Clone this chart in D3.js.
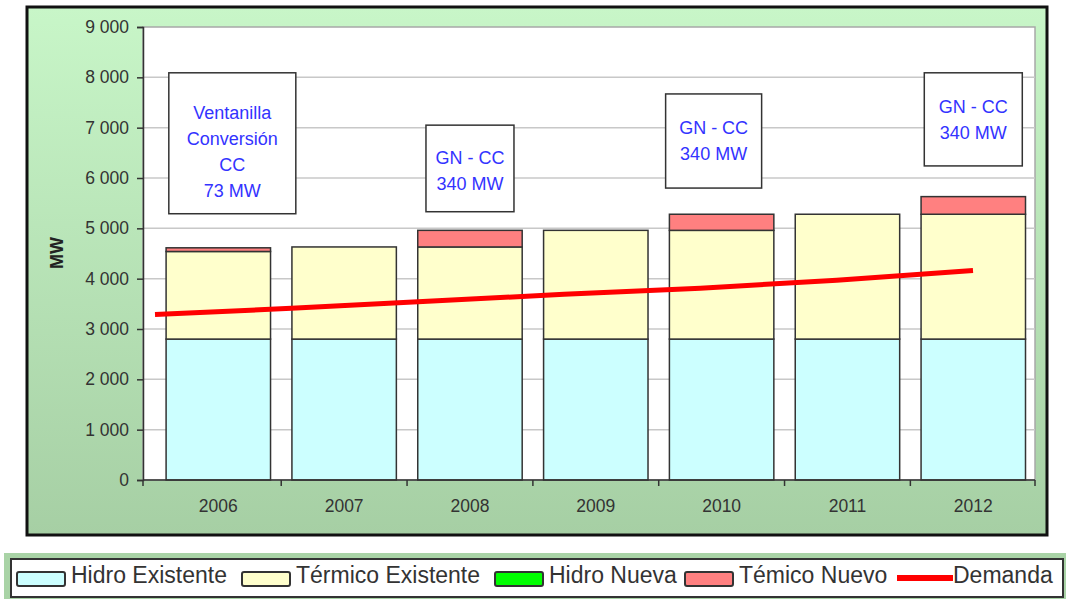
<!DOCTYPE html>
<html lang="es">

<head>
  <meta charset="UTF-8">
  <title>Oferta y demanda MW</title>
  <style>
    body { margin: 0; background: #fff; }
    svg text { font-family: 'Liberation Sans', Arial, sans-serif; }
  </style>
</head>

<body>
  <div id="chart"></div>

  <script src="https://d3js.org/d3.v7.min.js"></script>

  <script>
    // data
    const years = ['2006', '2007', '2008', '2009', '2010', '2011', '2012']
    const hidroExistente = [2800, 2800, 2800, 2800, 2800, 2800, 2800]
    const termicoExistente = [1740, 1830, 1830, 2160, 2160, 2480, 2480]
    const hidroNueva = [0, 0, 0, 0, 0, 0, 0]
    const termicoNuevo = [73, 0, 330, 0, 320, 0, 350]
    const demanda = [3290, 3410, 3550, 3690, 3810, 3970, 4160]
    const yTicks = [0, 1000, 2000, 3000, 4000, 5000, 6000, 7000, 8000, 9000]

    const seriesNames = ['Hidro Existente', 'Térmico Existente', 'Hidro Nueva', 'Témico Nuevo']
    const lineName = 'Demanda'

    const noteYears = ['2006', '2008', '2010', '2012']
    const noteLines = [
      ['Ventanilla', 'Conversión', 'CC', '73 MW'],
      ['GN - CC', '340 MW'],
      ['GN - CC', '340 MW'],
      ['GN - CC', '340 MW']
    ]

    // layout
    const width = 1069
    const height = 599
    const plot = { left: 143, right: 1035, top: 27, bottom: 480 }
    const barRange = [155.4, 1036.2]
    const lineRange = [155, 973]
    const colors = ['#ccffff', '#ffffcc', '#00ff00', '#ff8080']
    const lineColor = '#ff0000'
    // annotation boxes: top/bottom in MW, width and horizontal shift in px
    const noteBoxes = [
      { top: 8090, bottom: 5290, w: 127, dx: 14, dy: 8 },
      { top: 7050, bottom: 5330, w: 88, dx: 0, dy: 2 },
      { top: 7670, bottom: 5800, w: 96, dx: -8, dy: 0 },
      { top: 8090, bottom: 6240, w: 98, dx: 0, dy: 0 }
    ]

    const svg = d3.select('#chart').append('svg').attr('width', width).attr('height', height)

    // outer chart area with green gradient
    const defs = svg.append('defs')
    const grad = defs.append('linearGradient').attr('id', 'bg').attr('x1', 0).attr('y1', 0).attr('x2', 0).attr('y2', 1)
    grad.append('stop').attr('offset', '0%').attr('stop-color', '#c8f6c8')
    grad.append('stop').attr('offset', '100%').attr('stop-color', '#a6cfa4')

    svg.append('rect').attr('x', 27).attr('y', 7).attr('width', 1020).attr('height', 528)
      .attr('fill', 'url(#bg)').attr('stroke', '#111').attr('stroke-width', 3)

    svg.append('rect').attr('x', plot.left).attr('y', plot.top)
      .attr('width', plot.right - plot.left).attr('height', plot.bottom - plot.top)
      .attr('fill', '#fff').attr('stroke', '#a8a8a8').attr('stroke-width', 1.5)

    // scales
    const xScale = d3.scaleBand().domain(years).range(barRange).paddingInner(0.17).paddingOuter(0.085)
    const xLine = d3.scalePoint().domain(years).range(lineRange)
    const yScale = d3.scaleLinear().domain([0, 9000]).range([plot.bottom, plot.top])

    // gridlines
    svg.append('g').selectAll('line').data(yTicks.filter(d => d > 0 && d < 9000)).enter().append('line')
      .attr('x1', plot.left).attr('x2', plot.right)
      .attr('y1', d => yScale(d)).attr('y2', d => yScale(d))
      .attr('stroke', '#c8c8c8').attr('stroke-width', 1.5)

    // stacked bars
    const rows = years.map((y, i) => ({
      year: y, s0: hidroExistente[i], s1: termicoExistente[i], s2: hidroNueva[i], s3: termicoNuevo[i]
    }))
    const stack = d3.stack().keys(['s0', 's1', 's2', 's3'])(rows)

    svg.append('g').selectAll('g').data(stack).enter().append('g')
      .attr('fill', (d, i) => colors[i])
      .selectAll('rect').data(d => d.filter(p => p[1] > p[0])).enter().append('rect')
      .attr('x', d => xScale(d.data.year))
      .attr('y', d => yScale(d[1]))
      .attr('width', xScale.bandwidth())
      .attr('height', d => yScale(d[0]) - yScale(d[1]))
      .attr('stroke', '#333').attr('stroke-width', 1.5)

    // demand line
    const line = d3.line().x((d, i) => xLine(years[i])).y(d => yScale(d))
    svg.append('path').datum(demanda).attr('d', line)
      .attr('fill', 'none').attr('stroke', lineColor).attr('stroke-width', 5)

    // axes
    const yAxis = d3.axisLeft(yScale).tickValues(yTicks).tickSize(6).tickPadding(8)
      .tickFormat(d => d3.format(',')(d).replace(',', ' '))
    const gY = svg.append('g').attr('transform', `translate(${plot.left},0)`).call(yAxis)
    gY.selectAll('text').attr('font-size', '17.5px').attr('fill', '#333').attr('font-family', null)
    gY.selectAll('line, path').attr('stroke', '#333').attr('stroke-width', 1.5)

    const xAxis = d3.axisBottom(xScale).tickSize(0).tickPadding(20)
    const gX = svg.append('g').attr('transform', `translate(0,${plot.bottom})`).call(xAxis)
    gX.select('.domain').remove()
    gX.selectAll('text').attr('font-size', '17.5px').attr('fill', '#333').attr('font-family', null)
    gX.append('line').attr('x1', plot.left).attr('x2', plot.right).attr('stroke', '#333').attr('stroke-width', 1.5)
    const bounds = years.map(y => xScale(y) - xScale.step() * xScale.paddingInner() / 2).slice(1)
    gX.selectAll('.bound').data(bounds.concat([plot.left, plot.right])).enter().append('line')
      .attr('x1', d => d).attr('x2', d => d).attr('y1', 0).attr('y2', 6)
      .attr('stroke', '#333').attr('stroke-width', 1.5)

    svg.append('text').attr('transform', 'translate(63,253) rotate(-90)')
      .attr('text-anchor', 'middle').attr('font-size', '18px').attr('font-weight', 'bold')
      .attr('fill', '#222').text('MW')

    // annotation boxes
    const notes = svg.append('g').selectAll('g').data(noteYears).enter().append('g')
    notes.append('rect')
      .attr('x', (d, i) => xScale(d) + xScale.bandwidth() / 2 + noteBoxes[i].dx - noteBoxes[i].w / 2)
      .attr('y', (d, i) => yScale(noteBoxes[i].top))
      .attr('width', (d, i) => noteBoxes[i].w)
      .attr('height', (d, i) => yScale(noteBoxes[i].bottom) - yScale(noteBoxes[i].top))
      .attr('fill', '#fff').attr('stroke', '#333').attr('stroke-width', 1.5)
    notes.each(function (d, i) {
      const b = noteBoxes[i]
      const cx = xScale(d) + xScale.bandwidth() / 2 + b.dx
      const cy = (yScale(b.top) + yScale(b.bottom)) / 2 + b.dy
      const lines = noteLines[i]
      d3.select(this).selectAll('text').data(lines).enter().append('text')
        .attr('x', cx)
        .attr('y', (t, j) => cy + (j - (lines.length - 1) / 2) * 26)
        .attr('dy', '0.35em')
        .attr('text-anchor', 'middle').attr('font-size', '18px').attr('fill', '#3333ff')
        .text(t => t)
    })

    // legend
    svg.append('rect').attr('x', 4).attr('y', 553).attr('width', 1062).attr('height', 46).attr('fill', '#a9d3a6')
    svg.append('rect').attr('x', 11).attr('y', 559).attr('width', 1052).attr('height', 38)
      .attr('fill', '#fff').attr('stroke', '#333').attr('stroke-width', 2)

    const legendX = [17, 242, 495, 685, 897]
    const legendItems = seriesNames.concat([lineName])
    const lg = svg.append('g').selectAll('g').data(legendItems).enter().append('g')
      .attr('transform', (d, i) => `translate(${legendX[i]},0)`)
    lg.filter((d, i) => i < 4).append('rect')
      .attr('x', 0).attr('y', 572).attr('width', 48).attr('height', 14).attr('rx', 2)
      .attr('fill', (d, i) => colors[i]).attr('stroke', '#333').attr('stroke-width', 2)
    lg.filter((d, i) => i === 4).append('line')
      .attr('x1', 0).attr('x2', 56).attr('y1', 578).attr('y2', 578)
      .attr('stroke', lineColor).attr('stroke-width', 6)
    lg.append('text').attr('x', (d, i) => i === 4 ? 56 : 54).attr('y', 583)
      .attr('font-size', '23px').attr('fill', '#333').text(d => d)
  </script>
</body>

</html>
